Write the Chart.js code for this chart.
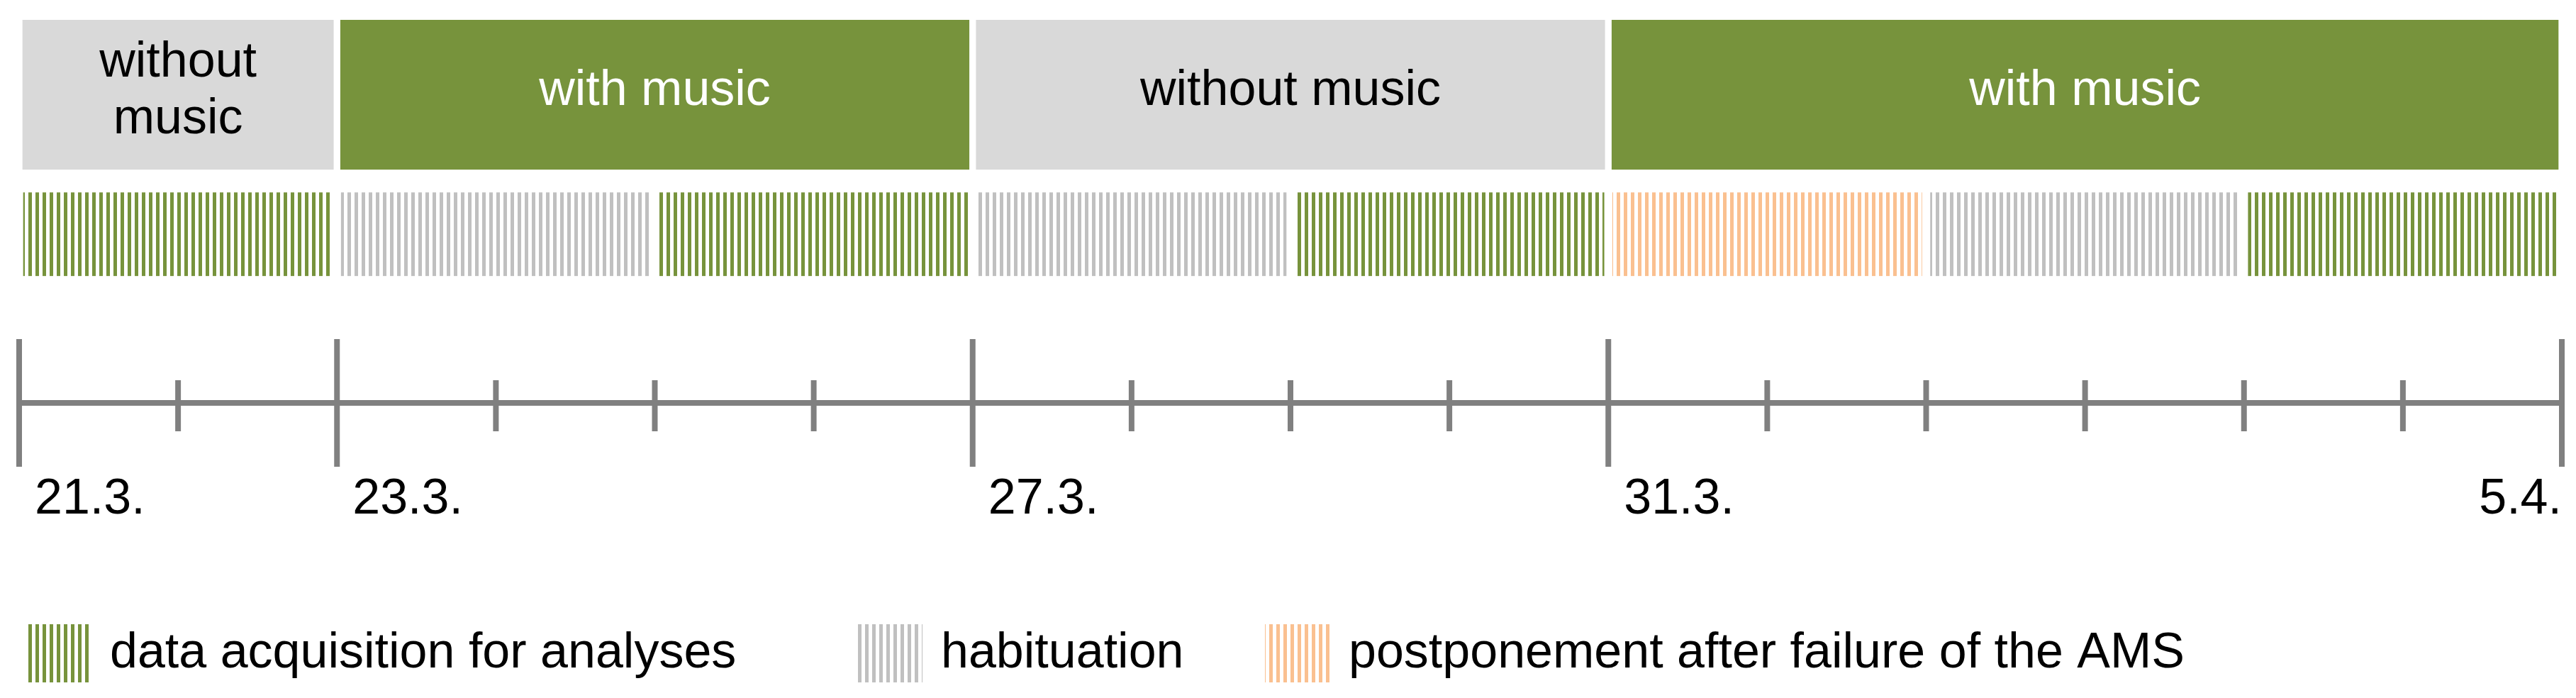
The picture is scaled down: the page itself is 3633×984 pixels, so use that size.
<!DOCTYPE html>
<html>
<head>
<meta charset="utf-8">
<script src="https://cdn.jsdelivr.net/npm/chart.js@4/dist/chart.umd.min.js"></script>
<style>
html,body{margin:0;padding:0;background:#fff;}
#wrap{width:3633px;height:984px;}
</style>
</head>
<body>
<div id="wrap"><canvas id="myChart" width="3633" height="984"></canvas></div>
<script>
// ------------- data -------------
var rows = ["phase", "use"];
// days from 21.3. (tick index on the timeline)
var phaseRanges = [[0, 2], [2, 6], [6, 10], [10, 16]];
var phaseLabels = [["without", "music"], ["with music"], ["without music"], ["with music"]];
var phaseKinds = ["without", "with", "without", "with"];
var useRanges = [[0, 2], [2, 4], [4, 6], [6, 8], [8, 10], [10, 12], [12, 14], [14, 16]];
var useKinds = ["data", "habit", "data", "habit", "data", "post", "habit", "data"];
var tickValues = [0, 1, 2, 3, 4, 5, 6, 7, 8, 9, 10, 11, 12, 13, 14, 15, 16];
var majorTicks = [0, 2, 6, 10, 16];
var tickLabels = ["21.3.", "23.3.", "27.3.", "31.3.", "5.4."];
var legendKeys = ["data", "habit", "post"];
var legendTexts = ["data acquisition for analyses", "habituation", "postponement after failure of the AMS"];
//---------------------------------

var FONT = "'Liberation Sans', Arial, sans-serif";
var phaseColor = {without: "#D9D9D9", "with": "#77933C"};
var stripeColor = {data: "#77933C", habit: "#C0C0C0", post: "#FAC090"};

function stripes(col) {
    var c = document.createElement("canvas");
    c.width = 10; c.height = 10;
    var g = c.getContext("2d");
    g.fillStyle = "#fff"; g.fillRect(0, 0, 10, 10);
    g.fillStyle = col; g.fillRect(0, 0, 5, 10);
    return document.getElementById("myChart").getContext("2d").createPattern(c, "repeat");
}
var patterns = {};
for (var k in stripeColor) patterns[k] = stripes(stripeColor[k]);

var timeline = {
    id: "timeline",
    afterDraw: function(chart) {
        var ctx = chart.ctx, x = chart.scales.x;
        var yAxis = 568;
        ctx.save();
        ctx.strokeStyle = "#808080";
        ctx.lineWidth = 8;
        ctx.beginPath();
        ctx.moveTo(x.getPixelForValue(0), yAxis);
        ctx.lineTo(x.getPixelForValue(16), yAxis);
        ctx.stroke();
        tickValues.forEach(function(v) {
            var px = x.getPixelForValue(v);
            var major = majorTicks.indexOf(v) >= 0;
            ctx.beginPath();
            ctx.moveTo(px, major ? 478 : 536);
            ctx.lineTo(px, major ? 658 : 608);
            ctx.stroke();
        });
        // tick labels
        ctx.fillStyle = "#000";
        ctx.font = "70px " + FONT;
        ctx.textBaseline = "middle";
        majorTicks.forEach(function(v, i) {
            var px = x.getPixelForValue(v);
            if (i == majorTicks.length - 1) { ctx.textAlign = "right"; ctx.fillText(tickLabels[i], px, 705); }
            else { ctx.textAlign = "left"; ctx.fillText(tickLabels[i], px + 22, 705); }
        });
        // phase texts
        var meta = chart.getDatasetMeta(0);
        meta.data.forEach(function(bar, i) {
            var lines = phaseLabels[i];
            ctx.fillStyle = phaseKinds[i] == "with" ? "#fff" : "#000";
            ctx.textAlign = "center";
            for (var j = 0; j < lines.length; j++) {
                var cx = (bar.x + bar.base) / 2;
                ctx.fillText(lines[j], cx, bar.y + (j - (lines.length - 1) / 2) * 80);
            }
        });
        // legend
        var lx = [37, 1209, 1784];
        legendKeys.forEach(function(key, i) {
            ctx.fillStyle = patterns[key];
            ctx.fillRect(lx[i], 880, 92, 82);
            ctx.fillStyle = "#000";
            ctx.textAlign = "left";
            ctx.fillText(legendTexts[i], lx[i] + 118, 922);
        });
        ctx.restore();
    }
};

var ctx = document.getElementById("myChart").getContext("2d");
var myChart = new Chart(ctx, {
    type: "bar",
    data: {
        labels: rows,
        datasets: [{
            data: phaseRanges.map(function(r) { return {x: r, y: "phase"}; }),
            backgroundColor: phaseKinds.map(function(k) { return phaseColor[k]; }),
            borderColor: "#fff",
            borderWidth: {left: 5, right: 5, top: 0, bottom: 0},
            borderSkipped: false,
            barThickness: 221
        }, {
            data: useRanges.map(function(r) { return {x: r, y: "use"}; }),
            backgroundColor: useKinds.map(function(k) { return patterns[k]; }),
            borderColor: "#fff",
            borderWidth: {left: 6, right: 6, top: 0, bottom: 0},
            borderSkipped: false,
            barThickness: 118
        }]
    },
    options: {
        indexAxis: "y",
        responsive: false,
        animation: false,
        grouped: false,
        layout: {padding: {left: 27, right: 20, top: 28, bottom: 553}},
        plugins: {legend: {display: false}, tooltip: {enabled: false}},
        scales: {
            x: {type: "linear", min: 0, max: 16, display: false},
            y: {type: "category", display: false}
        }
    },
    plugins: [timeline]
});
</script>
</body>
</html>
